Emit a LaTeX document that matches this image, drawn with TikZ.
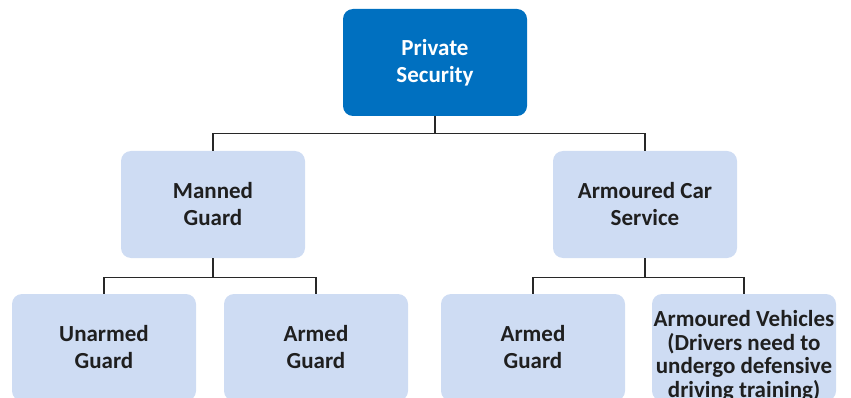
\documentclass[tikz,border=0pt]{standalone}
\usepackage{fontspec}
\setmainfont{Carlito}
\definecolor{topblue}{RGB}{0,112,192}
\definecolor{lightbox}{RGB}{206,220,243}
\definecolor{linegray}{RGB}{40,40,40}
\begin{document}
\begin{tikzpicture}[x=1pt,y=-1pt,
  box/.style={rounded corners=10pt, minimum width=184pt, minimum height=107pt, inner sep=0pt, align=center, font=\fontsize{23}{27}\selectfont\bfseries},
  topbox/.style={box, fill=topblue, text=white},
  subbox/.style={box, fill=lightbox, text=black!88},
  conn/.style={draw=linegray, line width=1.1pt}]
\useasboundingbox (0,0) rectangle (851,398);
\clip (0,0) rectangle (851,398);
\node[topbox] (ps) at (435,62.5) {Private\\Security};
\node[subbox] (mg) at (213,204.5) {Manned\\Guard};
\node[subbox] (ac) at (645,204.5) {Armoured Car\\Service};
\node[subbox] (ug) at (104,347.5) {Unarmed\\Guard};
\node[subbox] (ag1) at (316,347.5) {Armed\\Guard};
\node[subbox] (ag2) at (533,347.5) {Armed\\Guard};
\node[subbox] (av) at (744,347.5) {};
\node[font=\fontsize{23}{23.5}\selectfont\bfseries, align=center, inner sep=0pt, text=black!88] (avt) at (744,356) {Armoured Vehicles\\(Drivers need to\\undergo defensive\\driving training)};
\path[conn] (ps.south) -- ++(0,17) coordinate (j1);
\path[conn] (mg.north) |- (j1) -| (ac.north);
\path[conn] (mg.south) -- ++(0,19) coordinate (j2);
\path[conn] (ug.north) |- (j2) -| (ag1.north);
\path[conn] (ac.south) -- ++(0,19) coordinate (j3);
\path[conn] (ag2.north) |- (j3) -| (av.north);
\end{tikzpicture}
\end{document}
